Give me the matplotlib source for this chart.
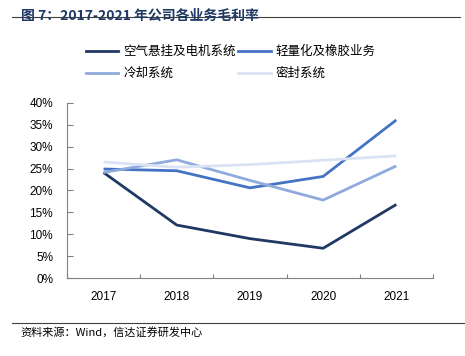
import matplotlib
matplotlib.use("Agg")
import matplotlib.pyplot as plt
from matplotlib.lines import Line2D
from matplotlib.ticker import FuncFormatter, FixedLocator

plt.rcParams['font.family'] = ['Liberation Sans', 'Noto Sans CJK SC', 'DejaVu Sans']

years = ['2017', '2018', '2019', '2020', '2021']
series_names = ['空气悬挂及电机系统', '轻量化及橡胶业务', '冷却系统', '密封系统']
air_suspension = [24.1, 12.1, 9.0, 6.8, 16.8]
lightweight_rubber = [24.9, 24.5, 20.6, 23.2, 36.1]
cooling = [24.1, 27.0, 22.3, 17.8, 25.6]
sealing = [26.5, 25.3, 25.9, 26.9, 27.9]
yticks = [0, 5, 10, 15, 20, 25, 30, 35, 40]

colors = ['#203864', '#4472C4', '#8FAADC', '#DAE3F3']
data = [air_suspension, lightweight_rubber, cooling, sealing]

fig = plt.figure(figsize=(4.65, 3.56), dpi=100)
ax = fig.add_axes([0.144, 0.219, 0.787, 0.492])

x = list(range(len(years)))
for vals, c in zip(data, colors):
    ax.plot(x, vals, color=c, lw=2.0, solid_capstyle='butt')

ax.set_xlim(-0.5, len(years) - 0.5)
ax.set_ylim(0, 40)
ax.set_yticks(yticks)
ax.yaxis.set_major_formatter(FuncFormatter(lambda v, p: f'{int(v)}%'))
ax.xaxis.set_major_locator(FixedLocator([i - 0.5 for i in range(len(years) + 1)]))
ax.xaxis.set_minor_locator(FixedLocator(x))
ax.set_xticklabels([])
ax.set_xticklabels(years, minor=True)
ax.tick_params(axis='x', which='major', direction='in', length=3, color='#808080')
ax.tick_params(axis='x', which='minor', length=0, pad=9, labelsize=8.5)
ax.tick_params(axis='y', direction='in', length=4, color='#808080', labelsize=8.5, pad=10)
for s in ['top', 'right']:
    ax.spines[s].set_visible(False)
for s in ['left', 'bottom']:
    ax.spines[s].set_color('#808080')
    ax.spines[s].set_linewidth(0.8)

# row-major order for legend: matplotlib fills columns first
order = [0, 2, 1, 3]
handles = [Line2D([0], [0], color=colors[i], lw=2.0) for i in order]
labels = [series_names[i] for i in order]
leg = fig.legend(handles, labels, loc='upper left', bbox_to_anchor=(0.16, 0.905),
                 ncol=2, frameon=False, handlelength=2.6, handletextpad=0.4,
                 columnspacing=0.2, labelspacing=0.72,
                 prop={'family': ['Noto Sans CJK SC'], 'size': 9})

fig.text(0.045, 0.975, '图 7：2017-2021 年公司各业务毛利率', ha='left', va='top',
         fontsize=10, fontweight='bold', color='#1F3864',
         family=['Noto Sans CJK SC', 'DejaVu Sans'])
fig.add_artist(Line2D([0.026, 0.99], [0.953, 0.953], color='#404040', lw=0.8))
fig.add_artist(Line2D([0.026, 1.0], [0.093, 0.093], color='#404040', lw=0.8))
fig.text(0.045, 0.083, '资料来源：Wind，信达证券研发中心', ha='left', va='top',
         fontsize=8, color='#000000', style='italic',
         family=['Noto Sans CJK SC', 'DejaVu Sans'])

fig.savefig('out.png', dpi=100)
